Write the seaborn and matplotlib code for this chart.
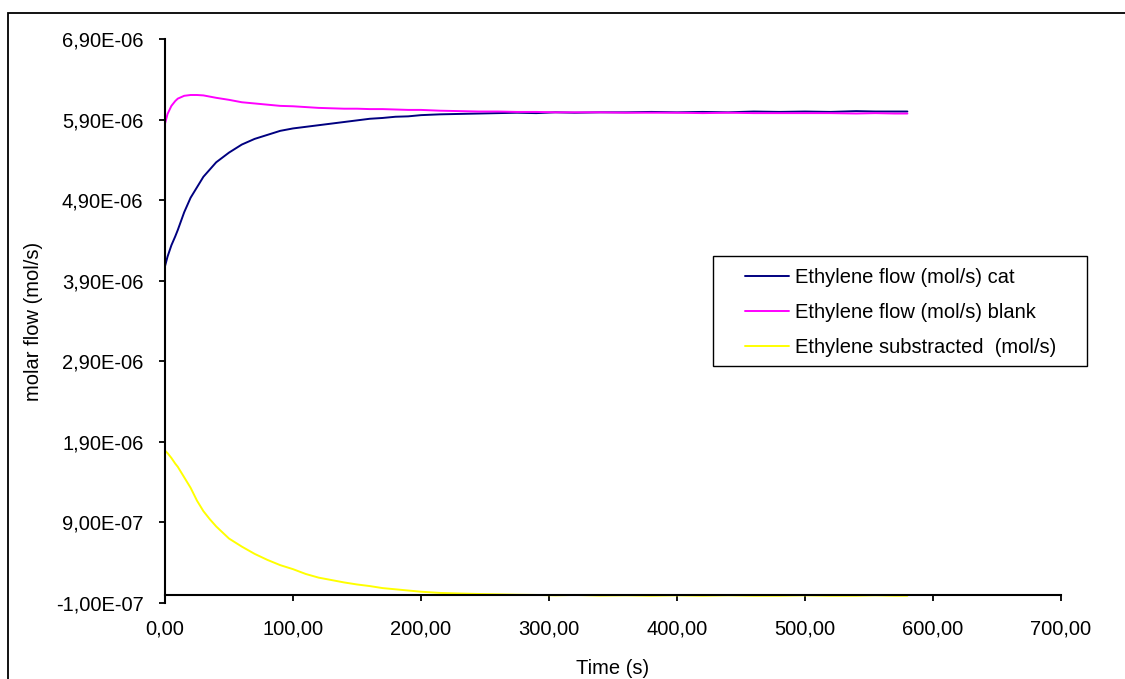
import matplotlib
matplotlib.use("Agg")
import matplotlib.pyplot as plt
from matplotlib.patches import Rectangle
from matplotlib.lines import Line2D
from matplotlib.ticker import FuncFormatter
import seaborn as sns
import pandas as pd

# ---- data (values in 1e-6 mol/s) ----
time_s = [0, 2, 5, 8, 10, 15, 20, 25, 30, 35, 40, 50, 60, 70, 80, 90, 100, 110, 120,
          130, 140, 150, 160, 170, 180, 190, 200, 215, 230, 245, 260, 275, 290, 305,
          320, 340, 360, 380, 400, 420, 440, 460, 480, 500, 520, 540, 555, 570, 580]
cat = [4.08, 4.20, 4.34, 4.45, 4.53, 4.75, 4.93, 5.06, 5.19, 5.28, 5.37, 5.49, 5.59,
       5.66, 5.71, 5.76, 5.79, 5.81, 5.83, 5.85, 5.87, 5.89, 5.91, 5.92, 5.935, 5.94,
       5.955, 5.965, 5.97, 5.975, 5.98, 5.985, 5.98, 5.99, 5.985, 5.99, 5.99, 5.995,
       5.99, 5.995, 5.99, 6.00, 5.995, 6.00, 5.995, 6.005, 6.00, 6.00, 6.00]
blank = [5.85, 5.97, 6.07, 6.13, 6.16, 6.195, 6.205, 6.205, 6.20, 6.185, 6.17, 6.145,
         6.115, 6.10, 6.085, 6.07, 6.065, 6.055, 6.045, 6.04, 6.035, 6.035, 6.03, 6.03,
         6.025, 6.02, 6.02, 6.01, 6.005, 6.00, 6.00, 5.995, 5.995, 5.99, 5.99, 5.99,
         5.985, 5.985, 5.985, 5.98, 5.985, 5.98, 5.98, 5.98, 5.98, 5.975, 5.98, 5.975, 5.975]
subtracted = [1.79, 1.76, 1.70, 1.63, 1.59, 1.46, 1.33, 1.17, 1.04, 0.94, 0.85, 0.70,
              0.60, 0.51, 0.435, 0.37, 0.32, 0.26, 0.215, 0.185, 0.155, 0.13, 0.11,
              0.085, 0.07, 0.055, 0.04, 0.025, 0.018, 0.012, 0.008, 0.003, 0.0, -0.005,
              0.0, -0.008, -0.005, -0.01, -0.005, -0.01, -0.005, -0.01, -0.01, -0.005,
              -0.01, -0.01, -0.005, -0.01, -0.01]

series_names = ["Ethylene flow (mol/s) cat",
                "Ethylene flow (mol/s) blank",
                "Ethylene substracted  (mol/s)"]
series_colors = ["#000080", "#FF00FF", "#FFFF00"]

x_ticks = [0, 100, 200, 300, 400, 500, 600, 700]
y_ticks = [-1.0e-7, 9.0e-7, 1.9e-6, 2.9e-6, 3.9e-6, 4.9e-6, 5.9e-6, 6.9e-6]

rows = []
for name, vals in zip(series_names, [cat, blank, subtracted]):
    for t, v in zip(time_s, vals):
        rows.append({"Time (s)": t, "flow": v * 1e-6, "series": name})
df = pd.DataFrame(rows)

sns.set_style("white")
plt.rcParams["font.family"] = ["Liberation Sans", "DejaVu Sans"]
FS = 14.5

W, H = 1125, 679
fig = plt.figure(figsize=(W / 100, H / 100), dpi=100)
ax = fig.add_axes([165 / W, 1 - 603 / H, 896 / W, 564 / H])

sns.lineplot(data=df, x="Time (s)", y="flow", hue="series", hue_order=series_names,
             palette=series_colors, linewidth=1.4, ax=ax, sort=False, legend=False)

ax.set_xlim(0, 700)
ax.set_ylim(-1.0e-7, 6.9e-6)
ax.set_xticks(x_ticks)
ax.set_yticks(y_ticks)
ax.xaxis.set_major_formatter(FuncFormatter(lambda v, p: f"{v:.2f}".replace(".", ",")))
ax.yaxis.set_major_formatter(FuncFormatter(lambda v, p: f"{v:.2E}".replace(".", ",")))

for s in ["top", "right"]:
    ax.spines[s].set_visible(False)
ax.spines["bottom"].set_position(("data", 0))
for s in ["left", "bottom"]:
    ax.spines[s].set_color("black")
    ax.spines[s].set_linewidth(1.5)

ax.tick_params(axis="both", direction="out", length=4.5, width=1.3, color="black",
               labelsize=FS, labelcolor="black")
ax.tick_params(axis="x", pad=13, bottom=True)
ax.tick_params(axis="y", pad=11, left=True)

ax.set_xlabel("Time (s)", fontsize=FS, color="black")
ax.set_ylabel("molar flow (mol/s)", fontsize=FS, color="black")
ax.xaxis.set_label_coords(0.5, (603 - 668) / 564)
ax.xaxis.label.set_va("center")
ax.yaxis.set_label_coords((34 - 165) / 896, 0.5)
ax.yaxis.label.set_va("center")

# legend
handles = [Line2D([], [], color=c, lw=1.4) for c in series_colors]
leg = fig.legend(handles, series_names, loc="upper left",
                 bbox_to_anchor=(745 / W, 1 - 268 / H), frameon=False,
                 fontsize=FS, handlelength=2.2, handletextpad=0.3,
                 labelspacing=0.8, borderpad=0, borderaxespad=0)
for txt in leg.get_texts():
    txt.set_color("black")
fig.patches.append(Rectangle((713 / W, 1 - 366 / H), 374 / W, 110 / H,
                             transform=fig.transFigure, fill=False,
                             edgecolor="black", linewidth=1.0))

# outer chart border (left and top visible)
fig.patches.append(Rectangle((8 / W, -0.05), 1.2, 1 - 13 / H + 0.05,
                             transform=fig.transFigure, fill=False,
                             edgecolor="black", linewidth=1.3))

fig.savefig("out.png", dpi=100)
